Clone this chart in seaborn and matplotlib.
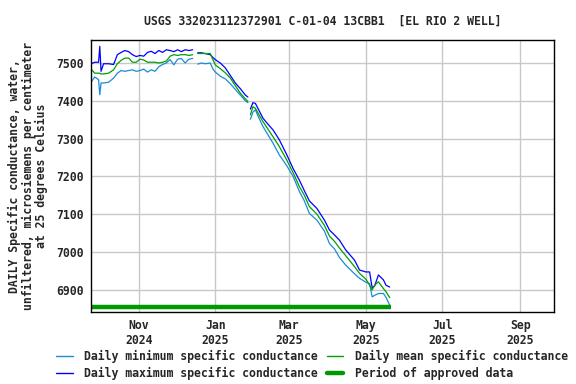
import pandas as pd
import numpy as np
import matplotlib
matplotlib.use('Agg')
import matplotlib.pyplot as plt
import matplotlib.dates as mdates
from matplotlib.lines import Line2D
import seaborn as sns

# Days since first record (2024-09-24); NaN rows mark gaps in the record
start_date = pd.Timestamp('2024-09-24')
days = [0, 3, 6, 7, 8, 10, 14, 18, 21, 24, 27, 30, 33, 36, 39, 42, 45, 48, 51,
        54, 57, 60, 63, 66, 69, 72, 75, 78, 81, 83, 85, 88, 91, 95, 97, 99, 103,
        107, 111, 115, 119, 123, 125, 126, 127, 129, 131, 133, 137, 141, 145,
        150, 156, 161, 166, 170, 174, 180, 186, 190, 194, 198, 203, 210, 214,
        219, 222, 224, 226, 229, 233, 235, 238]

daily_min = [7449, 7463, 7456, 7416, 7447, 7447, 7449, 7460, 7473, 7480, 7478,
             7480, 7482, 7478, 7480, 7484, 7476, 7482, 7478, 7490, 7496, 7500,
             7509, 7495, 7510, 7512, 7500, 7510, 7512, np.nan, 7497, 7500, 7498,
             7500, 7485, 7476, 7465, 7458, 7445, 7430, 7415, 7400, 7395, np.nan,
             7351, 7370, 7376, 7360, 7332, 7310, 7288, 7257, 7228, 7200, 7160,
             7135, 7102, 7084, 7055, 7022, 7008, 6985, 6965, 6942, 6930, 6920,
             6916, 6881, 6885, 6890, 6890, 6880, 6859]

daily_max = [7498, 7502, 7502, 7544, 7478, 7498, 7498, 7496, 7522, 7528, 7533,
             7530, 7522, 7517, 7520, 7518, 7528, 7531, 7525, 7533, 7528, 7535,
             7533, 7530, 7535, 7530, 7535, 7533, 7535, np.nan, 7527, 7527, 7525,
             7522, 7515, 7509, 7500, 7487, 7467, 7447, 7432, 7415, 7410, np.nan,
             7378, 7395, 7393, 7380, 7354, 7338, 7323, 7297, 7257, 7221, 7190,
             7162, 7135, 7115, 7084, 7058, 7045, 7031, 7005, 6978, 6952, 6947,
             6947, 6905, 6910, 6939, 6926, 6912, 6907]

daily_mean = [7484, 7473, 7473, 7473, 7471, 7471, 7473, 7482, 7498, 7507, 7513,
              7513, 7502, 7502, 7510, 7508, 7502, 7502, 7502, 7500, 7502, 7505,
              7518, 7522, 7520, 7522, 7522, 7520, 7522, np.nan, 7525, 7525, 7525,
              7525, 7510, 7495, 7485, 7474, 7460, 7440, 7420, 7405, 7398, np.nan,
              7363, 7384, 7380, 7368, 7345, 7325, 7305, 7279, 7243, 7210, 7173,
              7150, 7120, 7100, 7070, 7042, 7028, 7010, 6990, 6961, 6943, 6928,
              6912, 6899, 6912, 6921, 6903, 6895, 6879]

approved_start = '2024-09-24'
approved_end = '2025-05-21'

series_names = ['Daily minimum specific conductance',
                'Daily maximum specific conductance',
                'Daily mean specific conductance']
colors = {series_names[0]: '#1a8cd8',
          series_names[1]: '#0000ff',
          series_names[2]: '#00a000'}
approved_color = '#009900'

# Build long table, with a segment id so the gaps stay open
dates = start_date + pd.to_timedelta(days, unit='D')
seg = np.cumsum(np.isnan(daily_min))
frames = []
for name, vals in zip(series_names, [daily_min, daily_max, daily_mean]):
    frames.append(pd.DataFrame({'date': dates, 'value': vals,
                                'series': name, 'segment': seg}))
df = pd.concat(frames).dropna()

sns.set_style('white')
plt.rcParams['font.family'] = ['DejaVu Sans Mono']
plt.rcParams['font.weight'] = 'bold'

fig, ax = plt.subplots(figsize=(5.76, 3.84), dpi=100)
fig.subplots_adjust(left=0.158, right=0.962, bottom=0.1875, top=0.896)

sns.lineplot(data=df, x='date', y='value', hue='series', units='segment',
             estimator=None, palette=colors, hue_order=series_names,
             linewidth=0.9, legend=False, ax=ax)

ax.plot([pd.Timestamp(approved_start), pd.Timestamp(approved_end)],
        [6853, 6853], color=approved_color, linewidth=3.2, solid_capstyle='butt')

ax.set_xlim(pd.Timestamp('2024-09-24'), pd.Timestamp('2025-09-28'))
ax.set_ylim(6841, 7561)
ax.set_yticks([6900, 7000, 7100, 7200, 7300, 7400, 7500])
ax.xaxis.set_major_locator(mdates.MonthLocator(bymonth=[1, 3, 5, 7, 9, 11]))
ax.xaxis.set_major_formatter(mdates.DateFormatter('%b\n%Y'))

ax.grid(True, color='#c8c8c8', linewidth=1)
ax.set_axisbelow(True)
for sp in ax.spines.values():
    sp.set_color('black')
    sp.set_linewidth(1)
ax.tick_params(axis='both', length=0, labelsize=8.3, pad=5)

ax.set_xlabel('')
ax.set_ylabel('DAILY Specific conductance, water,\n'
              'unfiltered, microsiemens per centimeter\n'
              'at 25 degrees Celsius', fontsize=8.3, fontweight='bold',
              linespacing=1.05, labelpad=6)
ax.set_title('USGS 332023112372901 C-01-04 13CBB1  [EL RIO 2 WELL]',
             fontsize=8.3, fontweight='bold', pad=11)

handles = [Line2D([], [], color=colors[series_names[0]], lw=1),
           Line2D([], [], color=colors[series_names[1]], lw=1),
           Line2D([], [], color=colors[series_names[2]], lw=1),
           Line2D([], [], color=approved_color, lw=3.2)]
labels = [series_names[0], series_names[1], series_names[2],
          'Period of approved data']
fig.legend(handles, labels, loc='center', bbox_to_anchor=(0.542, 0.049),
           ncol=2, frameon=False, fontsize=8.3, handlelength=1.4,
           handletextpad=1.0, columnspacing=0.8, labelspacing=0.35)

plt.savefig('out.png', dpi=100)
